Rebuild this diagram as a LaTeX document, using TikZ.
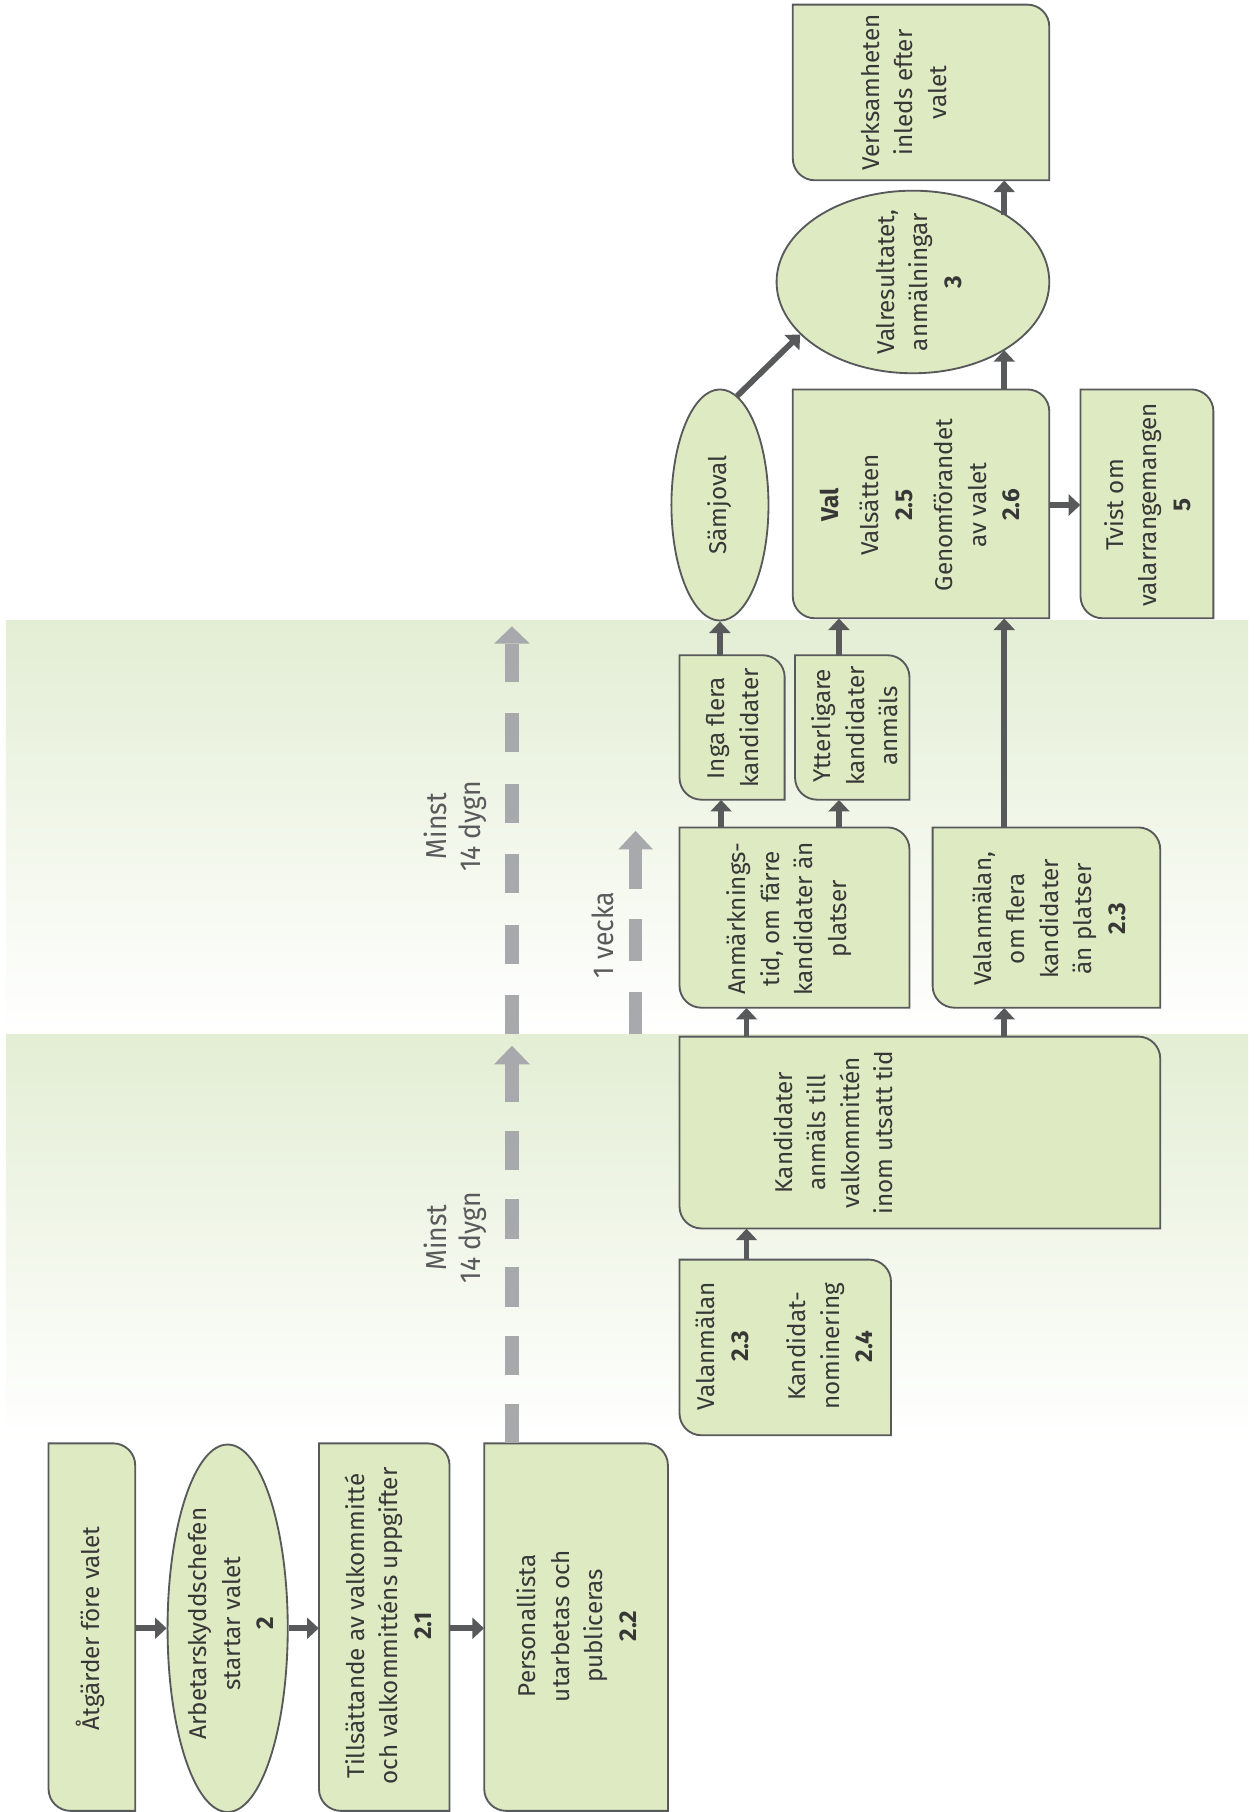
\documentclass[tikz,border=0pt]{standalone}
\usepackage{fontspec}
\setmainfont{Fira Sans}
\newfontfamily\condfont[FakeStretch=0.92]{Fira Sans}
\usetikzlibrary{arrows.meta,shapes.geometric,fit,calc}
\definecolor{boxfill}{RGB}{222,234,194}
\definecolor{bandcol}{RGB}{227,238,212}
\definecolor{edgecol}{RGB}{88,89,91}
\definecolor{dashgray}{RGB}{167,169,172}
\definecolor{txtcol}{RGB}{55,55,55}
\definecolor{lblcol}{RGB}{90,90,92}
\tikzset{
  boxline/.style={draw=edgecol,fill=boxfill,line width=1.6pt},
  ell/.style={draw=edgecol,fill=boxfill,line width=1.6pt,ellipse,inner sep=0pt},
  txt/.style={rotate=90,align=center,text=txtcol,inner sep=0pt,font=\fontsize{21}{29}\selectfont},
  glab/.style={rotate=90,align=center,text=lblcol,inner sep=0pt,font=\condfont\fontsize{25}{29}\selectfont},
  arr/.style={draw=edgecol,line width=5pt,-{Triangle[width=18pt,length=10pt]}},
  gline/.style={draw=dashgray,line width=11.5pt},
}
\newcommand\flowbox[5]{%
  \draw[boxline] (#2,#3) -- ({#4-19},#3) .. controls ({#4-8.5},#3) and (#4,{#3+8.5}) .. (#4,{#3+19}) -- (#4,#5) -- ({#2+19},#5) .. controls ({#2+8.5},#5) and (#2,{#5-8.5}) .. (#2,{#5-19}) -- cycle;
  \node[fit={(#2,#3) (#4,#5)},inner sep=0pt] (#1) {};
}
\begin{document}
\begin{tikzpicture}[x=1pt,y=-1pt]
\useasboundingbox (0,0) rectangle (1086,1568);
% bands
\shade[top color=bandcol,bottom color=white] (5,537) rectangle (1080,895);
\shade[top color=bandcol,bottom color=white] (5,895) rectangle (1080,1245);

% boxes
\flowbox{atg}{42}{1249}{117}{1567}
\node[ell,minimum width=104pt,minimum height=318pt] (arb) at (197,1409) {};
\flowbox{till}{276}{1249}{389}{1567}
\flowbox{pers}{419}{1249}{578}{1567}
\flowbox{vala}{588}{1090}{771}{1242}
\flowbox{kand}{588}{897}{1004}{1063}
\flowbox{anm}{588}{716}{787}{872}
\flowbox{vfl}{807}{716}{1004}{872}
\flowbox{inga}{588}{567}{679}{692}
\flowbox{ytt}{688}{567}{787}{692}
\node[ell,minimum width=84pt,minimum height=200pt] (sam) at (623,437) {};
\flowbox{val}{686}{337}{908}{535}
\flowbox{tvist}{935}{337}{1050}{535}
\node[ell,minimum width=236pt,minimum height=158pt] (res) at (790,244) {};
\flowbox{verk}{686}{4}{908}{156}

% texts
\node[txt] (t-atg) at (78,1409) {Åtgärder före valet};
\node[txt] (t-arb) at (200,1405) {Arbetarskyddschefen\\startar valet\\\textbf{2}};
\node[txt] (t-till) at (336,1407) {Tillsättande av valkommitté\\och valkommitténs uppgifter\\\textbf{2.1}};
\node[txt] (t-pers) at (499,1407) {Personallista\\utarbetas och\\publiceras\\\textbf{2.2}};
\node[txt] (t-vala) at (679,1165) {Valanmälan\\\textbf{2.3}\\[21pt]Kandidat-\\nominering\\\textbf{2.4}};
\node[txt] (t-kand) at (721,980) {Kandidater\\anmäls till\\valkommittén\\inom utsatt tid};
\node[txt] (t-anm) at (683,795) {Anmärknings-\\tid, om färre\\kandidater än\\platser};
\node[txt] (t-vfl) at (908,795) {Valanmälan,\\om flera\\kandidater\\än platser\\\textbf{2.3}};
\node[txt] (t-inga) at (634,630) {Inga flera\\kandidater};
\node[txt] (t-ytt) at (740,628) {Ytterligare\\kandidater\\anmäls};
\node[txt] (t-sam) at (623,437) {Sämjoval};
\node[txt] (t-val) at (796,437) {\textbf{Val}\\[6pt]Valsätten\\\textbf{2.5}\\[6pt]Genomförandet\\av valet\\\textbf{2.6}};
\node[txt] (t-tvist) at (993,437) {Tvist om\\valarrangemangen\\\textbf{5}};
\node[txt] (t-res) at (795,244) {Valresultatet,\\anmälningar\\\textbf{3}};
\node[txt] (t-verk) at (782,80) {Verksamheten\\inleds efter\\valet};

% gray timing arrows
\coordinate (tipA) at (443,905);
\coordinate (startB) at (443,895);
\coordinate (tipB) at (443,542);
\coordinate (startC) at (550,895);
\coordinate (tipC) at (550,719);
\draw[gline,dash pattern=on 34pt off 25pt] (pers.north -| tipA) -- ($(tipA)+(0,16)$);
\fill[dashgray] ($(tipA)+(-15.5,16)$) -- ($(tipA)+(15.5,16)$) -- (tipA) -- cycle;
\draw[gline,dash pattern=on 34pt off 27pt] (startB) -- ($(tipB)+(0,15)$);
\fill[dashgray] ($(tipB)+(-15.5,15)$) -- ($(tipB)+(15.5,15)$) -- (tipB) -- cycle;
\draw[gline,dash pattern=on 37pt off 26pt] (startC) -- ($(tipC)+(0,16)$);
\fill[dashgray] ($(tipC)+(-15,16)$) -- ($(tipC)+(15,16)$) -- (tipC) -- cycle;
\node[glab] (l-a) at (394,1071) {Minst\\14 dygn};
\node[glab] (l-b) at (394,715) {Minst\\14 dygn};
\node[glab] (l-c) at (522,809) {1 vecka};

% connectors
\coordinate (xa) at (646,0);
\coordinate (xb) at (869,0);
\coordinate (xc) at (624,0);
\coordinate (xd) at (726,0);
\coordinate (resbot) at (869,303);
\coordinate (restop) at (869,186);
\draw[arr] (atg.east |- arb.west) -- (arb.west);
\draw[arr] (arb.east) -- (till.west |- arb.east);
\draw[arr] (till.east |- arb.east) -- (pers.west |- arb.east);
\draw[arr] (vala.north -| xa) -- (kand.south -| xa);
\draw[arr] (kand.north -| xa) -- (anm.south -| xa);
\draw[arr] (kand.north -| xb) -- (vfl.south -| xb);
\draw[arr] (anm.north -| xc) -- (inga.south -| xc);
\draw[arr] (anm.north -| xd) -- (ytt.south -| xd);
\draw[arr] (inga.north -| sam.south) -- (sam.south);
\draw[arr] (ytt.north -| xd) -- (val.south -| xd);
\draw[arr] (vfl.north -| xb) -- (val.south -| xb);
\draw[arr] (val.north -| xb) -- (resbot);
\draw[arr] (restop) -- (verk.south -| xb);
\draw[arr] (val.east |- sam.center) -- (tvist.west |- sam.center);
\draw[arr] (sam.81) -- (res.205);
\end{tikzpicture}
\end{document}
